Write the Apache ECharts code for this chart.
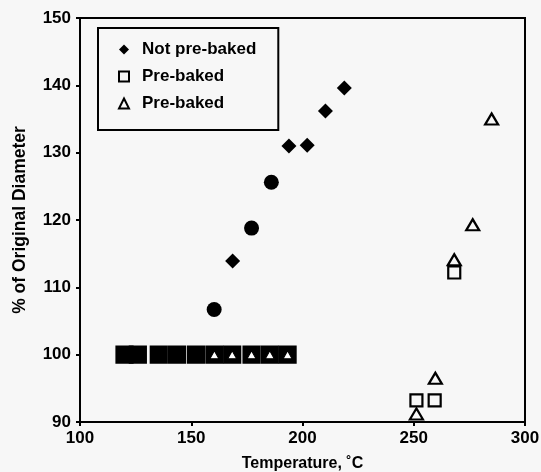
<!DOCTYPE html>
<html>
<head>
<meta charset="utf-8">
<script src="https://cdn.jsdelivr.net/npm/echarts@6/dist/echarts.min.js"></script>
<style>
html,body{margin:0;padding:0;background:#f7f7f7;}
#c{width:541px;height:472px;}
</style>
</head>
<body>
<div id="c"></div>
<script>
// ---- data ----
const notPrebakedTemp = [160.3, 168.6, 177.1, 186.0, 193.9, 202.1, 210.3, 218.8];
const notPrebakedDiam = [106.7, 113.9, 118.8, 125.6, 131.0, 131.1, 136.2, 139.6];

const prebakedSqTemp = [251.2, 259.4, 268.2];
const prebakedSqDiam = [93.2, 93.2, 112.2];

const prebakedTriTemp = [251.2, 259.7, 268.2, 276.5, 285.0];
const prebakedTriDiam = [91.2, 96.5, 114.1, 119.3, 135.0];

// points overlapping at 100 %
const baselineSqTemp = [120.0, 126.0, 135.4, 143.6, 152.1, 160.4, 168.4, 177.1, 185.3, 193.3];
const baselineSqDiam = [100, 100, 100, 100, 100, 100, 100, 100, 100, 100];
const baselineTriTemp = [160.4, 168.4, 177.1, 185.3, 193.3];
const baselineTriDiam = [100, 100, 100, 100, 100];

const xTicks = [100, 150, 200, 250, 300];
const yTicks = [90, 100, 110, 120, 130, 140, 150];

const seriesNames = ['Not pre-baked', 'Pre-baked', 'Pre-baked '];

// ---- styling ----
const BG = '#f7f7f7';
const FONT = '"Liberation Sans", Arial, sans-serif';
const roundMarkIdx = [0, 2, 3];

const zip = (a, b) => a.map((v, i) => [v, b[i]]);

const chart = echarts.init(document.getElementById('c'), null, {renderer: 'canvas'});

const notPreData = zip(notPrebakedTemp, notPrebakedDiam).map((p, i) => (
  roundMarkIdx.includes(i) ? {value: p, symbol: 'circle', symbolSize: 15} : {value: p}
));

const sqData = zip(prebakedSqTemp, prebakedSqDiam).map(p => ({value: p}))
  .concat(zip(baselineSqTemp, baselineSqDiam).map(p => ({
    value: p, symbolSize: 16, itemStyle: {color: '#000', borderColor: '#000'}
  })));

const triData = zip(prebakedTriTemp, prebakedTriDiam).map(p => ({value: p}))
  .concat(zip(baselineTriTemp, baselineTriDiam).map(p => ({
    value: p, symbolSize: [9, 8], itemStyle: {color: '#fff', borderColor: '#000', borderWidth: 1}
  })));

chart.setOption({
  backgroundColor: BG,
  animation: false,
  textStyle: {fontFamily: FONT},
  grid: {
    left: 80, right: 16, top: 18, bottom: 50,
    outerBoundsMode: 'none', containLabel: false,
    show: true, borderColor: '#000', borderWidth: 2, backgroundColor: 'transparent'
  },
  legend: {
    data: seriesNames,
    orient: 'vertical',
    left: 98, top: 28,
    padding: [12, 22, 17, 20],
    itemGap: 8,
    itemWidth: 10, itemHeight: 10,
    backgroundColor: BG,
    borderColor: '#000', borderWidth: 2,
    textStyle: {fontFamily: FONT, fontWeight: 'bold', fontSize: 17, color: '#000', padding: [0, 0, 0, 8], lineHeight: 19}
  },
  xAxis: {
    type: 'value', min: xTicks[0], max: xTicks[xTicks.length - 1], interval: 50,
    name: 'Temperature, ˚C', nameLocation: 'middle', nameGap: 34,
    nameTextStyle: {fontFamily: FONT, fontWeight: 'bold', fontSize: 16, color: '#000'},
    axisLine: {show: true, onZero: false, lineStyle: {color: '#000', width: 2}},
    axisTick: {show: true, inside: false, length: 4, lineStyle: {color: '#000', width: 2}},
    axisLabel: {fontFamily: FONT, fontWeight: 'bold', fontSize: 17, color: '#000', margin: 8},
    splitLine: {show: false}
  },
  yAxis: {
    type: 'value', min: yTicks[0], max: yTicks[yTicks.length - 1], interval: 10,
    name: '% of Original Diameter', nameLocation: 'middle', nameGap: 51,
    nameTextStyle: {fontFamily: FONT, fontWeight: 'bold', fontSize: 17.5, color: '#000'},
    axisLine: {show: true, onZero: false, lineStyle: {color: '#000', width: 2}},
    axisTick: {show: true, inside: false, length: 4, lineStyle: {color: '#000', width: 2}},
    axisLabel: {fontFamily: FONT, fontWeight: 'bold', fontSize: 17, color: '#000', margin: 9},
    splitLine: {show: false}
  },
  series: [
    {
      name: seriesNames[0], type: 'scatter', symbol: 'diamond', symbolSize: 15,
      itemStyle: {color: '#000', opacity: 1}, data: notPreData, z: 3
    },
    {
      name: seriesNames[1], type: 'scatter', symbol: 'rect', symbolSize: 12,
      itemStyle: {color: BG, borderColor: '#000', borderWidth: 2.2, opacity: 1}, data: sqData, z: 2
    },
    {
      name: seriesNames[2], type: 'scatter', symbol: 'triangle', symbolSize: [13, 11],
      itemStyle: {color: BG, borderColor: '#000', borderWidth: 2.2, opacity: 1}, data: triData, z: 4
    }
  ]
});
</script>
</body>
</html>
